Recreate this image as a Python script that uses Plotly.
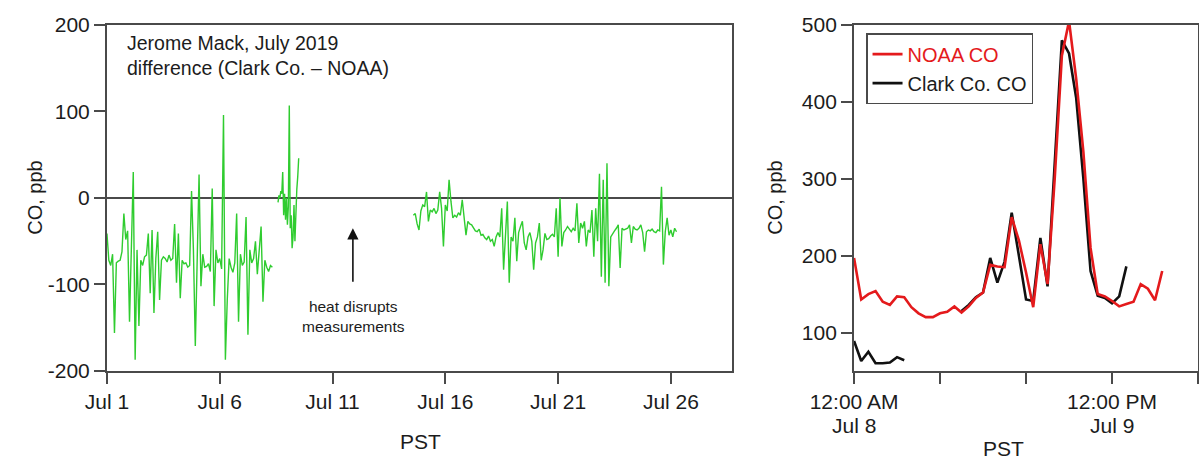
import numpy as np
import pandas as pd
import plotly.graph_objects as go

# ---------------- data ----------------
# Left panel: CO difference (Clark Co. - NOAA), ppb, Jerome Mack, July 2019
seg1_start = "2019-07-01 00:00"   # 2-hourly
seg1_diff = [-41, -72, -78, -65, -156, -75, -73, -72, -62, -18, -48, -38,
             -143, -45, 30, -187, -60, -148, -72, -78, -68, -66, -41, -110,
             -37, -133, -70, -39, -118, -72, -68, -70, -74, -66, -72, -70,
             -30, -98, -41, -116, -72, -76, -75, -80, -78, 8, -60, -171,
             -70, 27, -102, -65, -80, -79, -76, -85, 11, -125, -60, -75,
             -70, -82, 96, -187, -118, -70, -80, -86, -75, -18, -143, -65,
             -78, -74, -22, -158, -60, -75, -70, -50, -88, -60, -33, -120,
             -72, -80, -85, -78, -80]
seg2_start = "2019-07-08 14:00"   # hourly
seg2_diff = [-5, 3, 0, 8, 5, 30, -20, 5, -25, 0, -31, -10, 107, -35, -20,
             -58, -45, -8, -50, -15, 10, 25, 46]
seg3_start = "2019-07-14 14:00"   # 2-hourly
seg3_diff = [-20, -18, -30, -37, -15, -8, -10, 7, -27, -14, -16, -12, -18,
             -14, 7, -12, -56, -8, -15, 21, -4, -23, -20, -22, -17, -20, -2,
             -25, -43, -27, -30, -31, -35, -38, -39, -36, -43, -42, -46, -48,
             -44, -50, -48, -56, -45, -40, -45, -12, -83, -40, -4, -98, -45,
             -50, -23, -73, -40, -33, -27, -52, -60, -45, -40, -50, -83, -52,
             -45, -29, -72, -60, -41, -48, -47, -44, -42, -45, -12, -68, 0,
             -56, -40, -37, -33, -36, -39, -35, -38, -6, -52, -29, -35, -27,
             -56, -37, -40, -14, -68, -12, -50, 28, -91, 21, -98, 40, -102,
             -45, -41, -38, -35, -31, -81, -35, -37, -36, -35, -31, -52, -33,
             -36, -37, -35, -31, -40, -62, -39, -37, -38, -36, -39, -40, -37,
             -38, 13, -77, -39, -23, -43, -37, -45, -35, -39]

# Right panel: hourly CO, ppb, from 12:00 AM Jul 8
detail_start = "2019-07-08 00:00"
noaa_co = [197, 143, 150, 154, 140, 136, 147, 146, 133, 125, 120, 120, 125,
           127, 134, 126, 134, 145, 152, 188, 186, 185, 250, 220, 178, 133,
           215, 163, 300, 460, 505, 430, 335, 210, 150, 147, 141, 134, 137,
           140, 163, 157, 142, 180]
clark_co = [89, 63, 75, 60, 60, 61, 68, 64, None, None, None, None, None,
            None, None, 128, 136, 146, 152, 197, 165, 192, 256, 200, 143, 141,
            223, 160, 325, 480, 463, 405, 300, 180, 148, 145, 138, 147, 186]

left_ticks = ["2019-07-01", "2019-07-06", "2019-07-11", "2019-07-16",
              "2019-07-21", "2019-07-26"]
left_ticktext = ["Jul 1", "Jul 6", "Jul 11", "Jul 16", "Jul 21", "Jul 26"]
diff_ticks = [-200, -100, 0, 100, 200]
diff_ticktext = ["-200", "-100", "0", "100", "200"]
right_ticks = ["2019-07-08 00:00", "2019-07-08 12:00", "2019-07-09 00:00",
               "2019-07-09 12:00", "2019-07-10 00:00"]
right_ticktext = ["12:00 AM", "", "", "12:00 PM", ""]
right_daytext = ["Jul 8", "", "", "Jul 9", ""]
co_ticks = [100, 200, 300, 400, 500]


def times(start, n, step_h):
    return list(pd.Timestamp(start) + pd.to_timedelta(np.arange(n) * step_h, unit="h"))


# join the segments with gaps
diff_x, diff_y = [], []
for start, vals, step in [(seg1_start, seg1_diff, 2), (seg2_start, seg2_diff, 1),
                          (seg3_start, seg3_diff, 2)]:
    diff_x += times(start, len(vals), step) + [None]
    diff_y += vals + [None]

detail_x = times(detail_start, len(noaa_co), 1)

FONT = "Liberation Sans, Arial, Helvetica, sans-serif"
INK = "#1c1c1c"
AXC = "#4a4a4a"
H = 460

fig = go.Figure()

fig.add_trace(go.Scatter(x=diff_x, y=diff_y, mode="lines",
                         line=dict(color="#2fcc2f", width=1.4),
                         connectgaps=False, showlegend=False,
                         xaxis="x", yaxis="y"))

fig.add_trace(go.Scatter(x=detail_x[:len(clark_co)], y=clark_co, mode="lines",
                         name="Clark Co. CO", legendrank=2,
                         line=dict(color="#111111", width=2.6),
                         connectgaps=False, xaxis="x2", yaxis="y2"))
fig.add_trace(go.Scatter(x=detail_x, y=noaa_co, mode="lines",
                         name="<span style='color:#e41a1c'>NOAA CO</span>",
                         legendrank=1,
                         line=dict(color="#e41a1c", width=2.6),
                         xaxis="x2", yaxis="y2"))

axis_common = dict(showline=True, linecolor=AXC, linewidth=2, mirror=True,
                   ticks="outside", ticklen=11, tickwidth=2, tickcolor=AXC,
                   showgrid=False, automargin=False,
                   tickfont=dict(size=21, color=INK, family=FONT))

fig.update_layout(
    width=1199, height=H,
    margin=dict(l=0, r=0, t=0, b=0, autoexpand=False),
    paper_bgcolor="white", plot_bgcolor="white",
    font=dict(family=FONT, color=INK),
    xaxis=dict(domain=[0.0892, 0.6105], type="date",
               range=["2019-07-01 00:00", "2019-07-28 17:00"],
               tickmode="array", tickvals=left_ticks, ticktext=left_ticktext,
               zeroline=False, **axis_common),
    yaxis=dict(domain=[0.1935, 0.9457], range=[-200, 200],
               tickmode="array", tickvals=diff_ticks, ticktext=diff_ticktext,
               zeroline=True, zerolinecolor=AXC, zerolinewidth=2,
               anchor="x", **axis_common),
    xaxis2=dict(domain=[0.7123, 0.9992], type="date",
                range=["2019-07-08 00:00", "2019-07-10 00:00"],
                tickmode="array", tickvals=right_ticks, ticktext=right_ticktext,
                anchor="y2", zeroline=False, **axis_common),
    yaxis2=dict(domain=[0.1935, 0.9457], range=[50, 500],
                tickmode="array", tickvals=co_ticks,
                anchor="x2", zeroline=False, **axis_common),
    legend=dict(x=0.7223, y=0.928, xanchor="left", yanchor="top",
                bgcolor="white", bordercolor=AXC, borderwidth=1.5,
                font=dict(size=20, color=INK, family=FONT),
                itemwidth=30, tracegroupgap=0),
)

annotations = [
    dict(text="Jerome Mack, July 2019<br>difference (Clark Co. \u2013 NOAA)",
         xref="paper", yref="paper", x=0.104, y=0.935, xanchor="left",
         yanchor="top", align="left", showarrow=False,
         font=dict(size=19.5, color=INK)),
    dict(text="", xref="x", yref="y", x="2019-07-11 21:40", y=-35,
         ax=0, ay=55, axref="pixel", ayref="pixel", showarrow=True,
         arrowhead=2, arrowsize=1.4, arrowwidth=1.6, arrowcolor="#111"),
    dict(text="heat disrupts<br>measurements", xref="x", yref="y",
         x="2019-07-11 22:00", y=-137, showarrow=False, yanchor="middle",
         font=dict(size=15.5, color=INK)),
    dict(text="CO, ppb", xref="paper", yref="paper", x=22 / 1199, y=0.57,
         textangle=-90, showarrow=False, yanchor="middle",
         font=dict(size=20, color=INK)),
    dict(text="CO, ppb", xref="paper", yref="paper", x=775 / 1199, y=0.57,
         textangle=-90, showarrow=False, yanchor="middle",
         font=dict(size=20, color=INK)),
    dict(text="PST", xref="paper", yref="paper", x=0.3508, y=1 - 441 / H,
         showarrow=False, yanchor="middle", font=dict(size=21, color=INK)),
    dict(text="PST", xref="paper", yref="paper", x=0.8557, y=1 - 448 / H,
         showarrow=False, yanchor="middle", font=dict(size=21, color=INK)),
]
# second line of the right-panel tick labels (day), placed under the hour
for tv, dt in zip(right_ticks, right_daytext):
    if dt:
        annotations.append(dict(text=dt, xref="x2", yref="paper", x=tv,
                                y=1 - 425 / H, showarrow=False,
                                yanchor="middle",
                                font=dict(size=21, color=INK)))
fig.update_layout(annotations=annotations)

fig.write_html("out.html")
